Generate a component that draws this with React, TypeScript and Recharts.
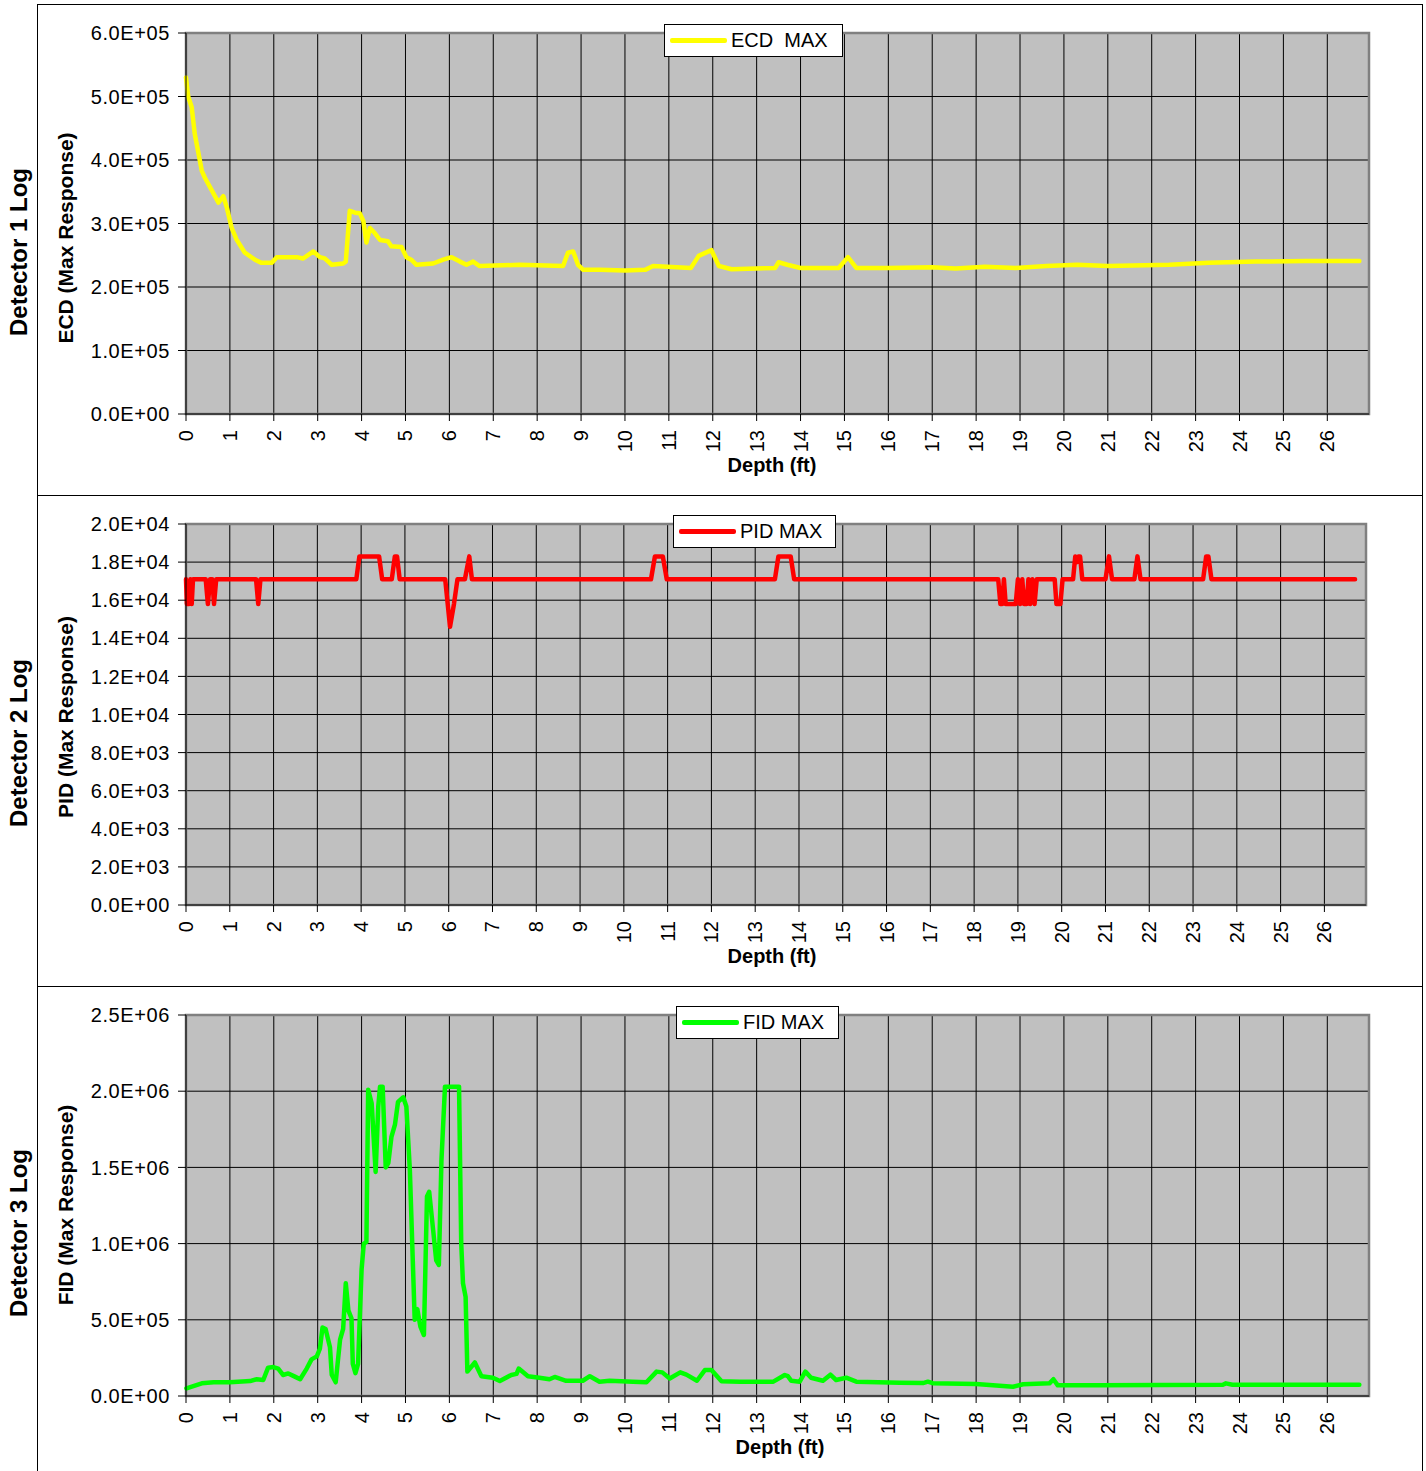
import React from 'react';
import { LineChart, Line, XAxis, YAxis, CartesianGrid, Legend, ReferenceArea } from 'recharts';

const FONT = '"Liberation Sans", Arial, Helvetica, sans-serif';

// depth axis shared by the three logs (ft)
const depthTicks = [0, 1, 2, 3, 4, 5, 6, 7, 8, 9, 10, 11, 12, 13, 14, 15, 16, 17, 18, 19, 20, 21, 22, 23, 24, 25, 26];
const depthMax = 26.95;

// Detector 1 - ECD
const ecdDepth = [0, 0.05, 0.13, 0.2, 0.36, 0.43, 0.55, 0.74, 0.85, 0.93, 1.04, 1.15, 1.34, 1.57, 1.72, 1.95, 2.07, 2.52, 2.67, 2.9, 3.05, 3.16, 3.32, 3.58, 3.64, 3.73, 3.85, 3.96, 4.04, 4.11, 4.19, 4.3, 4.42, 4.6, 4.68, 4.91, 5.02, 5.13, 5.25, 5.63, 5.86, 6.05, 6.24, 6.39, 6.54, 6.69, 7.6, 8.59, 8.7, 8.82, 8.93, 9.05, 9.42, 10.0, 10.46, 10.64, 11.5, 11.68, 11.97, 12.14, 12.43, 13.42, 13.5, 13.7, 14.0, 14.87, 15.08, 15.27, 16.0, 17.0, 17.53, 18.2, 18.9, 19.6, 20.3, 21.0, 22.4, 23.3, 24.37, 25.5, 26.73];
const ecdValue = [530000, 500000, 483000, 441000, 383000, 372000, 357000, 333000, 343000, 325000, 293000, 275000, 254000, 243000, 238000, 238000, 247000, 247000, 245000, 256000, 247000, 245000, 235000, 237000, 240000, 320000, 317000, 316000, 304000, 270000, 293000, 285000, 274000, 272000, 264000, 263000, 247000, 243000, 235000, 237000, 243000, 247000, 240000, 235000, 240000, 233000, 235000, 233000, 254000, 256000, 235000, 227000, 227000, 226000, 227000, 233000, 230000, 249000, 258000, 233000, 228000, 230000, 239000, 235000, 230000, 230000, 247000, 230000, 230000, 231000, 229000, 232000, 230000, 233000, 235000, 233000, 235000, 238000, 240000, 241000, 241000];
const ecdTicks = [0, 100000, 200000, 300000, 400000, 500000, 600000];

// Detector 2 - PID
const pidDepth = [0, 0.02, 0.07, 0.1, 0.13, 0.16, 0.45, 0.5, 0.55, 0.6, 0.64, 0.69, 1.6, 1.65, 1.7, 3.89, 3.96, 4.41, 4.48, 4.7, 4.77, 4.82, 4.88, 5.92, 6.03, 6.12, 6.2, 6.37, 6.47, 6.53, 10.62, 10.71, 10.89, 10.98, 13.45, 13.53, 13.81, 13.89, 18.55, 18.6, 18.64, 18.68, 18.72, 18.95, 19.0, 19.05, 19.1, 19.14, 19.2, 19.24, 19.28, 19.33, 19.38, 19.43, 19.84, 19.88, 19.97, 20.02, 20.26, 20.31, 20.35, 20.38, 20.42, 20.47, 21.0, 21.08, 21.15, 21.66, 21.73, 21.8, 23.23, 23.3, 23.35, 23.42, 26.7];
const pidValue = [17100, 15800, 15800, 17100, 15800, 17100, 17100, 15800, 17100, 17100, 15800, 17100, 17100, 15800, 17100, 17100, 18300, 18300, 17100, 17100, 18300, 18300, 17100, 17100, 14600, 15800, 17100, 17100, 18300, 17100, 17100, 18300, 18300, 17100, 17100, 18300, 18300, 17100, 17100, 15800, 15800, 17100, 15800, 15800, 17100, 15800, 17100, 15800, 15800, 17100, 15800, 17100, 15800, 17100, 17100, 15800, 15800, 17100, 17100, 18300, 18000, 18300, 18300, 17100, 17100, 18300, 17100, 17100, 18300, 17100, 17100, 18300, 18300, 17100, 17100];
const pidTicks = [0, 2000, 4000, 6000, 8000, 10000, 12000, 14000, 16000, 18000, 20000];

// Detector 3 - FID
const fidDepth = [0.01, 0.36, 0.63, 1.0, 1.46, 1.61, 1.76, 1.87, 1.99, 2.1, 2.21, 2.33, 2.48, 2.6, 2.75, 2.86, 2.98, 3.05, 3.11, 3.18, 3.28, 3.32, 3.41, 3.51, 3.58, 3.64, 3.7, 3.77, 3.8, 3.86, 3.92, 4.0, 4.05, 4.11, 4.15, 4.23, 4.32, 4.38, 4.42, 4.48, 4.55, 4.61, 4.68, 4.76, 4.83, 4.95, 5.02, 5.1, 5.21, 5.27, 5.34, 5.42, 5.49, 5.54, 5.63, 5.7, 5.76, 5.82, 5.9, 6.01, 6.22, 6.27, 6.31, 6.37, 6.41, 6.58, 6.73, 6.99, 7.15, 7.41, 7.53, 7.58, 7.79, 8.05, 8.28, 8.4, 8.66, 9.04, 9.2, 9.42, 9.65, 10.18, 10.49, 10.72, 10.85, 11.02, 11.26, 11.4, 11.64, 11.82, 11.97, 12.2, 12.62, 13.38, 13.64, 13.71, 13.79, 13.98, 14.11, 14.24, 14.51, 14.68, 14.81, 15.04, 15.27, 16.26, 16.79, 16.9, 17.01, 18.0, 18.84, 19.07, 19.67, 19.76, 19.86, 20.8, 23.62, 23.69, 23.84, 26.73];
const fidValue = [50000, 83000, 90000, 90000, 98000, 110000, 105000, 186000, 190000, 180000, 138000, 148000, 127000, 110000, 180000, 240000, 260000, 310000, 450000, 440000, 320000, 140000, 90000, 370000, 440000, 740000, 560000, 510000, 210000, 150000, 210000, 830000, 1000000, 1010000, 2010000, 1920000, 1470000, 1900000, 2030000, 2030000, 1500000, 1530000, 1700000, 1780000, 1930000, 1960000, 1900000, 1480000, 500000, 570000, 455000, 400000, 1310000, 1340000, 1090000, 890000, 860000, 1550000, 2030000, 2030000, 2030000, 1000000, 740000, 650000, 160000, 220000, 130000, 120000, 98000, 138000, 145000, 180000, 130000, 120000, 110000, 125000, 100000, 100000, 130000, 94000, 100000, 94000, 90000, 160000, 155000, 115000, 155000, 140000, 100000, 170000, 170000, 97000, 94000, 94000, 138000, 130000, 100000, 94000, 160000, 120000, 100000, 140000, 105000, 120000, 94000, 87000, 85000, 94000, 84000, 79000, 61000, 77000, 83000, 110000, 70000, 70000, 74000, 83000, 74000, 74000];
const fidTicks = [0, 500000, 1000000, 1500000, 2000000, 2500000];

function toRows(depth: number[], value: number[]) {
  return depth.map((d, i) => ({ depth: d, value: value[i] }));
}

// 6.0E+05 style labels
function sci(v: number) {
  const [m, e] = v.toExponential(1).split('e');
  const sign = e[0] === '-' ? '-' : '+';
  const exp = e.replace(/[+-]/, '').padStart(2, '0');
  return `${m}E${sign}${exp}`;
}

function DepthTick({ x, y, payload }: any) {
  return (
    <text x={x} y={y} transform={`rotate(-90 ${x} ${y})`} textAnchor="end" dominantBaseline="central"
      fontSize={20} fontFamily={FONT} fill="#000">
      {payload.value}
    </text>
  );
}

function YTitle({ text, cy }: any) {
  const cx = 27;
  return (
    <text x={cx} y={cy} transform={`rotate(-90 ${cx} ${cy})`} textAnchor="middle" dominantBaseline="central"
      fontSize={21} fontWeight="bold" fontFamily={FONT} fill="#000">
      {text}
    </text>
  );
}

function XTitle({ cx }: any) {
  return (
    <text x={cx} y={460} textAnchor="middle" dominantBaseline="central"
      fontSize={20} fontWeight="bold" fontFamily={FONT} fill="#000">
      Depth (ft)
    </text>
  );
}

function LegendBox({ label, color, width }: any) {
  return (
    <div style={{
      border: '1px solid #000', background: '#fff', height: 33, width, boxSizing: 'border-box',
      display: 'flex', alignItems: 'center', paddingLeft: 5, fontFamily: FONT, fontSize: 20,
      whiteSpace: 'pre', color: '#000'
    }}>
      <div style={{ width: 57, height: 5, background: color, marginRight: 4, borderRadius: 2 }} />
      <span>{label}</span>
    </div>
  );
}

function LogPanel(props: any) {
  const { rows, color, yTicks, yTitle, yTitleY, legendLabel, legendLeft, legendWidth,
    height, marginRight, xTitleX, top } = props;
  const yMax = yTicks[yTicks.length - 1];
  return (
    <div style={{
      position: 'absolute', left: 37, top, width: 1386, height: height + 2, boxSizing: 'border-box',
      border: '1px solid #000', borderBottom: 'none'
    }}>
      <LineChart width={1384} height={height} data={rows}
        margin={{ top: 28, right: marginRight, bottom: 0, left: 0 }}>
        <CartesianGrid fill="#C0C0C0" fillOpacity={1} stroke="#000" strokeWidth={1} />
        <ReferenceArea x1={0} x2={depthMax} y1={0} y2={yMax} fill="none" stroke="#808080" strokeWidth={2.5} ifOverflow="visible" />
        <XAxis dataKey="depth" type="number" domain={[0, depthMax]} ticks={depthTicks} interval={0}
          height={height - 28 - 381} tickSize={7} tickMargin={9} tick={<DepthTick />}
          stroke="#000" label={<XTitle cx={xTitleX} />} />
        <YAxis type="number" domain={[0, yMax]} ticks={yTicks} interval={0} width={148}
          tickSize={8} tickMargin={8} tickFormatter={sci} stroke="#000"
          tick={{ fontSize: 20, fill: '#000', fontFamily: FONT, letterSpacing: 0.6 }}
          label={<YTitle text={yTitle} cy={yTitleY} />} />
        <Legend layout="horizontal" verticalAlign="middle" align="center"
          wrapperStyle={{ left: legendLeft, top: 19, width: legendWidth, height: 33 }}
          content={() => <LegendBox label={legendLabel} color={color} width={legendWidth} />} />
        <Line type="linear" dataKey="value" stroke={color} strokeWidth={4.5} dot={false}
          strokeLinejoin="round" strokeLinecap="round" isAnimationActive={false} />
      </LineChart>
    </div>
  );
}

export default function App() {
  return (
    <div style={{ position: 'absolute', left: 0, top: 0, width: 1426, height: 1471, background: '#fff', overflow: 'hidden' }}>
      <svg width={37} height={1471} style={{ position: 'absolute', left: 0, top: 0 }}>
        {[['Detector 1 Log', 252], ['Detector 2 Log', 743], ['Detector 3 Log', 1233]].map(([t, cy]) => (
          <text key={t as string} x={18} y={cy as number} transform={`rotate(-90 18 ${cy})`} textAnchor="middle"
            dominantBaseline="central" fontSize={24} fontWeight="bold" fontFamily={FONT} fill="#000">
            {t}
          </text>
        ))}
      </svg>
      <LogPanel rows={toRows(ecdDepth, ecdValue)} color="#FFFF00" yTicks={ecdTicks}
        yTitle="ECD (Max Response)" yTitleY={233} legendLabel="ECD  MAX" legendLeft={626} legendWidth={179}
        height={490} marginRight={53} xTitleX={734} top={4} />
      <LogPanel rows={toRows(pidDepth, pidValue)} color="#FF0000" yTicks={pidTicks}
        yTitle="PID (Max Response)" yTitleY={221} legendLabel="PID MAX" legendLeft={635} legendWidth={163}
        height={490} marginRight={56} xTitleX={734} top={495} />
      <LogPanel rows={toRows(fidDepth, fidValue)} color="#00FF00" yTicks={fidTicks}
        yTitle="FID (Max Response)" yTitleY={218} legendLabel="FID MAX" legendLeft={638} legendWidth={163}
        height={484} marginRight={53} xTitleX={742} top={986} />
    </div>
  );
}
